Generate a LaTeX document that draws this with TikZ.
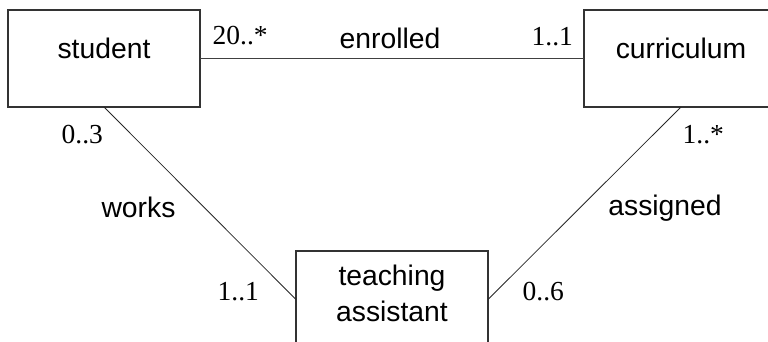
\documentclass[tikz,border=0pt]{standalone}
\usepackage{fontspec}
\setmainfont{Liberation Sans}
\newfontfamily\multfont{Liberation Serif}
\begin{document}
\begin{tikzpicture}[x=1pt,y=-1pt,
  entitybox/.style={draw=black!80, line width=1.2pt, minimum width=192pt, minimum height=97pt, inner sep=0pt, outer sep=0pt},
  diagline/.style={draw=black!85, line width=0.8pt},
  assocline/.style={draw=black!75, line width=1.3pt},
  labeltext/.style={font=\fontsize{28.3}{36}\selectfont, inner sep=0pt, anchor=base, align=center},
  multtext/.style={font=\multfont\fontsize{27.5}{30}\selectfont, inner sep=0pt, anchor=base west}]
\useasboundingbox (0,0) rectangle (768,342);
\clip (0,0) rectangle (768,342);

% class boxes
\node[entitybox] (student) at (104,58.5) {};
\node[entitybox, minimum width=194pt] (curriculum) at (681,58.5) {};
\node[entitybox] (ta) at (392,299.5) {};

% class names
\node[labeltext] (tstudent) at (student.center) {student};
\node[labeltext] (tcurriculum) at (curriculum.center) {curriculum};
\node[labeltext] (tta) at (392,321.7) {teaching\\assistant};

% associations
\draw[assocline] (student.east) -- (curriculum.west);
\draw[diagline] (student.south) -- (ta.west);
\draw[diagline] (curriculum.south) -- (ta.east);

% association names
\node[labeltext] (enrolled) at (390,48.3) {enrolled};
\node[labeltext] (works) at (138.5,217) {works};
\node[labeltext] (assigned) at (665,215) {assigned};

% multiplicities
\node[multtext] (m1) at (212.5,45) {20..*};
\node[multtext] (m2) at (531.5,46) {1..1};
\node[multtext] (m3) at (61.5,143) {0..3};
\node[multtext] (m4) at (682.5,143) {1..*};
\node[multtext] (m5) at (217.5,300) {1..1};
\node[multtext] (m6) at (522.5,300) {0..6};
\end{tikzpicture}
\end{document}
